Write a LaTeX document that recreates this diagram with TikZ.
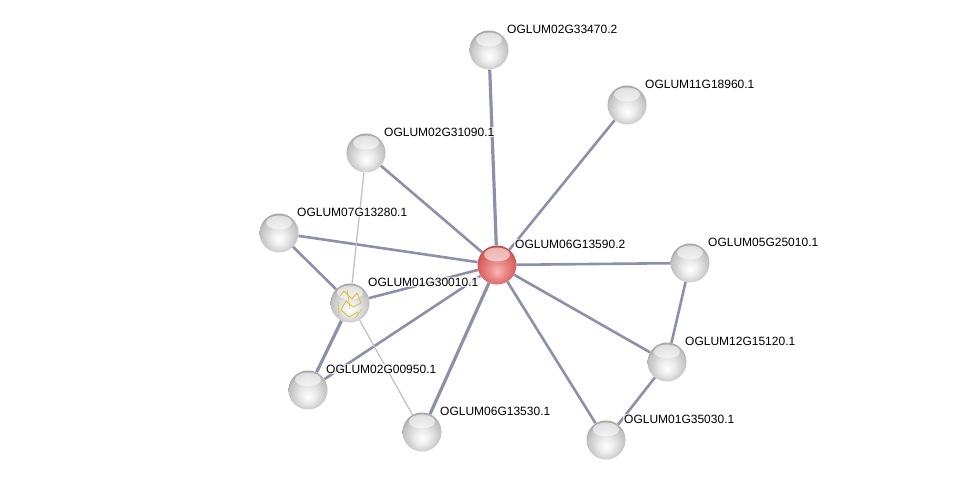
\documentclass[tikz,border=0pt]{standalone}
\usepackage{fontspec}
\setmainfont{Liberation Sans}
\usepackage{xcolor}
\usepackage{tikz}
\usetikzlibrary{backgrounds, positioning}

\definecolor{edgegray}{RGB}{140,144,168}
\definecolor{edgelight}{RGB}{190,193,208}
\definecolor{pdbyellow}{RGB}{215,190,60}

\pgfdeclareradialshading{grayball}{\pgfpoint{0bp}{-9bp}}{
    color(0bp)=(white); color(10bp)=(white!92!black);
    color(24bp)=(white!76!black); color(31bp)=(white!55!black);
    color(40bp)=(white!45!black)}
\pgfdeclareradialshading{redball}{\pgfpoint{0bp}{-9bp}}{
    color(0bp)=(rgb,255:red,250;green,185;blue,185); color(10bp)=(rgb,255:red,236;green,140;blue,140);
    color(24bp)=(rgb,255:red,215;green,95;blue,95); color(31bp)=(rgb,255:red,165;green,55;blue,55);
    color(40bp)=(rgb,255:red,140;green,45;blue,45)}

\begin{document}
\begin{tikzpicture}[
    x=1pt, y=-1pt,
    font=\fontsize{12}{14}\selectfont,
    protein/.style={circle, minimum size=39pt, inner sep=0pt, shading=grayball,
        path picture={\fill[white, opacity=0.55]
            ([yshift=-9pt]path picture bounding box.north) ellipse (13pt and 7pt);}},
    query/.style={protein, shading=redball},
    name_tag/.style={anchor=west, inner sep=1pt, fill=white, fill opacity=0.75, text opacity=1},
    link/.style={draw=edgegray, line width=2.6pt},
    strong_link/.style={draw=edgegray, line width=3.2pt},
    weak_link/.style={draw=edgelight, line width=1.3pt}
]
\useasboundingbox (0,0) rectangle (976,487);

% PROTEINS
\node[query]   (g13590) at (497,265) {};
\node[protein] (g33470) at (489,50)  {};
\node[protein] (g18960) at (627,105) {};
\node[protein] (g31090) at (366,153) {};
\node[protein] (g13280) at (279,233) {};
\node[protein] (g30010) at (350,303) {};
\node[protein] (g25010) at (690,263) {};
\node[protein] (g15120) at (667,362) {};
\node[protein] (g00950) at (308,390) {};
\node[protein] (g13530) at (422,432) {};
\node[protein] (g35030) at (606,440) {};

% structure sketch inside OGLUM01G30010.1
\draw[pdbyellow, line width=0.8pt, line join=round]
    (340,296) -- (344,291) -- (352,299) -- (357,293) -- (361,303) -- (353,307)
    -- (346,301) -- (341,310) -- (349,317) -- (358,312);
\draw[pdbyellow, line width=0.6pt]
    (338,302) -- (339,316) (347,289) -- (350,309) (355,318) -- (362,309);

% NAME TAGS
\foreach \g/\t in {g13590/OGLUM06G13590.2, g33470/OGLUM02G33470.2,
    g18960/OGLUM11G18960.1, g31090/OGLUM02G31090.1, g13280/OGLUM07G13280.1,
    g30010/OGLUM01G30010.1, g25010/OGLUM05G25010.1, g15120/OGLUM12G15120.1,
    g00950/OGLUM02G00950.1, g13530/OGLUM06G13530.1, g35030/OGLUM01G35030.1}
    \node[name_tag] (tag_\g) at ([shift={(17,-21)}]\g.center) {\t};

% LINKS
\begin{scope}[on background layer]
\draw[strong_link] (g13590) -- (g33470);
\draw[strong_link] (g13590) -- (g13530);
\draw[strong_link] (g30010) -- (g00950);
\draw[link] (g13590) -- (g18960);
\draw[link] (g13590) -- (g31090);
\draw[link] (g13590) -- (g13280);
\draw[link] (g13590) -- (g30010);
\draw[link] (g13590) -- (g25010);
\draw[link] (g13590) -- (g15120);
\draw[link] (g13590) -- (g35030);
\draw[link] (g13590) -- (g00950);
\draw[link] (g13280) -- (g30010);
\draw[link] (g25010) -- (g15120);
\draw[link] (g15120) -- (g35030);
\draw[weak_link] (g31090) -- (g30010);
\draw[weak_link] (g30010) -- (g13530);
\end{scope}
\end{tikzpicture}
\end{document}
